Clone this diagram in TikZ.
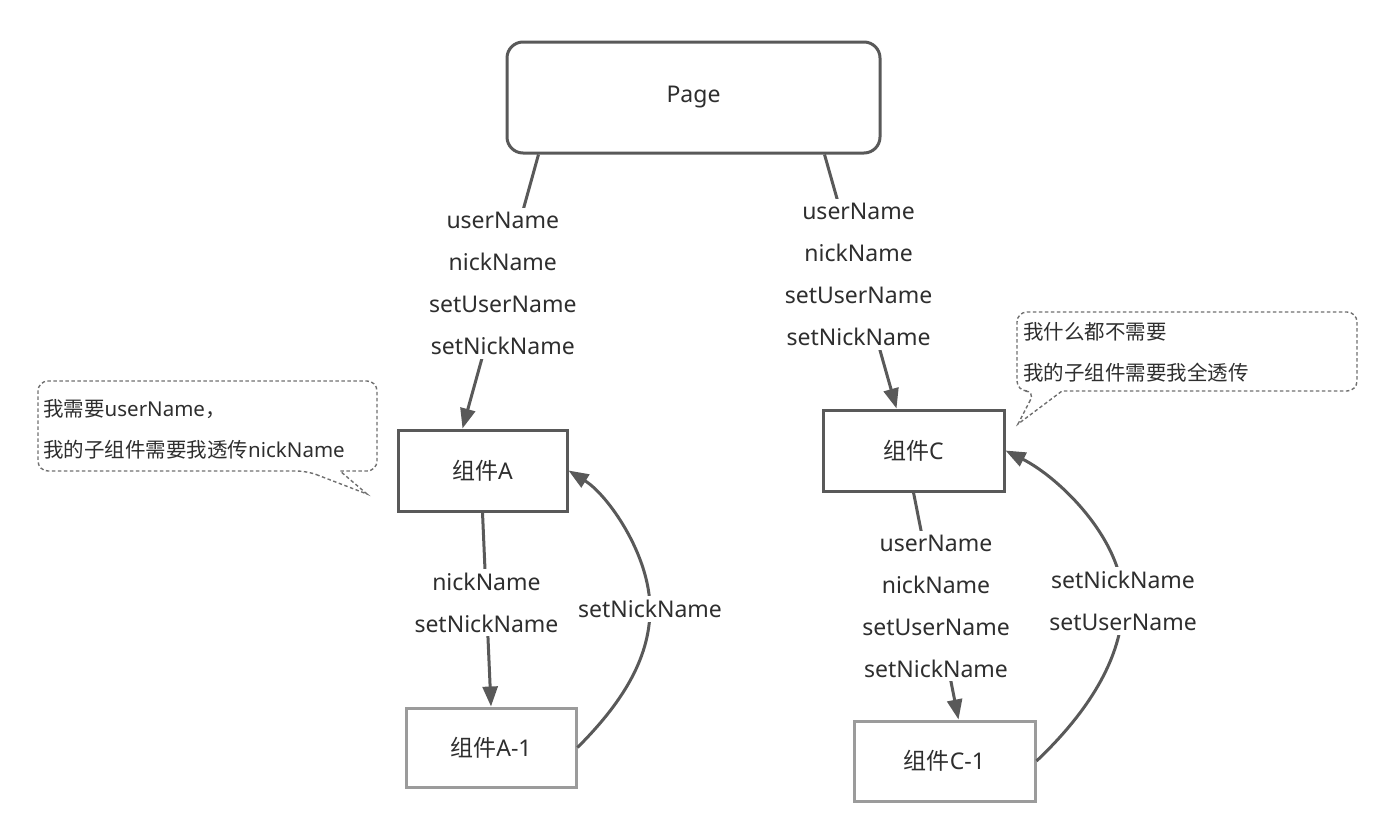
\documentclass[tikz,border=0pt]{standalone}
\usepackage{fontspec}
\setmainfont{Noto Sans}
\newfontfamily\cjk{Noto Sans CJK SC}
\usetikzlibrary{arrows.meta,positioning}
\definecolor{edgegray}{HTML}{595959}
\definecolor{boxgray}{HTML}{9B9B9B}
\definecolor{notegray}{HTML}{707070}
\definecolor{txtgray}{HTML}{2E2E2E}

\begin{document}
\begin{tikzpicture}[
  x=1pt, y=-1pt,
  box/.style={draw=edgegray, line width=3pt, fill=white, text=txtgray, font=\fontsize{23}{28}\selectfont, inner sep=0pt},
  subbox/.style={box, draw=boxgray},
  lbl/.style={fill=white, text=txtgray, align=center, font=\fontsize{23}{42}\selectfont, inner sep=4pt},
  conn/.style={draw=edgegray, line width=3pt},
  arr/.style={conn, -{Triangle[length=20pt,width=15pt]}},
  note/.style={draw=notegray, line width=1.4pt, dash pattern=on 3.5pt off 2.5pt},
  notetext/.style={anchor=west, text=txtgray, align=left, font=\fontsize{20.5}{41}\selectfont, inner sep=0pt}
]
\useasboundingbox (0,0) rectangle (1400,839);

\node[box, rounded corners=16pt, minimum width=373pt, minimum height=111pt] (page) at (693.5,97.5) {Page};
\node[box, minimum width=169pt, minimum height=81pt] (compA) at (482.5,470.5) {{\cjk 组件}A};
\node[box, minimum width=181pt, minimum height=81pt] (compC) at (913.5,450.5) {{\cjk 组件}C};
\node[subbox, minimum width=170pt, minimum height=79pt] (compA1) at (491,747.5) {{\cjk 组件}A-1};
\node[subbox, minimum width=181pt, minimum height=80pt] (compC1) at (944.5,761) {{\cjk 组件}C-1};

\draw[arr] ([xshift=33pt]page.south west) -- ([xshift=66pt]compA.north west)
  node[lbl, pos=0.47] (propsA) {userName\\nickName\\setUserName\\setNickName};
\draw[arr] ([xshift=-57pt]page.south east) -- ([xshift=75pt]compC.north west)
  node[lbl, pos=0.473] (propsC) {userName\\nickName\\setUserName\\setNickName};
\draw[arr] (compA.south) -- (compA1.north)
  node[lbl, pos=0.464] (propsA1) {nickName\\setNickName};
\draw[arr] (compC.south) -- ([xshift=106pt]compC1.north west)
  node[lbl, midway] (propsC1) {userName\\nickName\\setUserName\\setNickName};

\draw[arr] (compA1.east) .. controls (620,705) and (650,660) .. (650,609)
  node[lbl] (backA) {setNickName}
  .. controls (650,555) and (608,495) .. (compA.east);
\draw[arr] (compC1.east) .. controls (1085,715) and (1123,660) .. (1123,601)
  node[lbl] (backC) {setNickName\\setUserName}
  .. controls (1123,540) and (1060,478) .. (compC.east);

\draw[note] (307,471) -- (367,494) -- (340,471) [rounded corners=10pt] -- (377,471) -- (377,381) -- (38,381) -- (38,471) -- cycle;
\node[notetext] (noteA) at (43,429) {{\cjk 我需要}userName{\cjk ，}\\{\cjk 我的子组件需要我透传}nickName};

\draw[note] (1035,391) -- (1018,424) -- (1062,391) [rounded corners=10pt] -- (1357,391) -- (1357,312) -- (1017,312) -- (1017,391) -- cycle;
\node[notetext] (noteC) at (1023,352) {{\cjk 我什么都不需要}\\{\cjk 我的子组件需要我全透传}};
\end{tikzpicture}
\end{document}
